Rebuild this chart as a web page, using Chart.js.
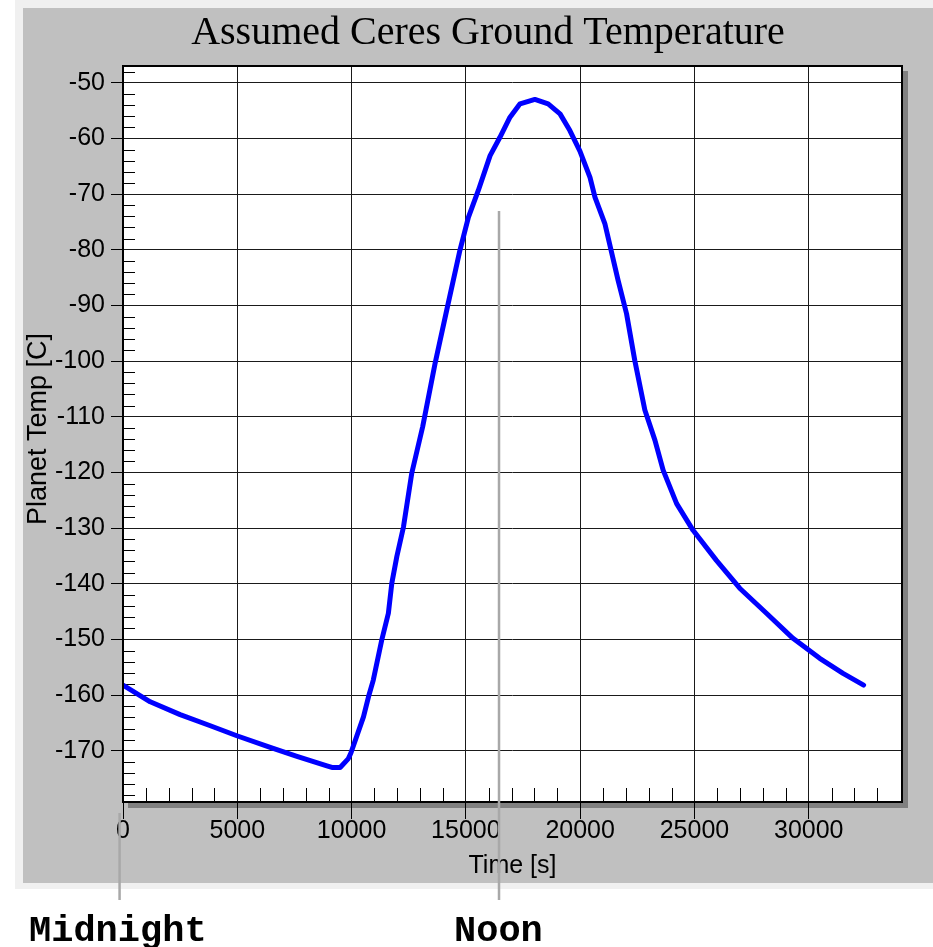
<!DOCTYPE html>
<html>
<head>
<meta charset="utf-8">
<title>Assumed Ceres Ground Temperature</title>
<script src="https://cdn.jsdelivr.net/npm/chart.js@4"></script>
<style>
    html, body { margin: 0; padding: 0; background: #ffffff; }
    #chart { display: block; }
</style>
</head>
<body>
<canvas id="chart" width="933" height="947"></canvas>
<script>
// Data
const timeSeconds = [0, 1190, 2500, 3820, 4980, 6440, 7610, 8920, 9140, 9500,
    9860, 9970, 10520, 10740, 10950, 11320, 11610, 11760, 11980, 12270,
    12630, 13110, 13650, 14160, 14740, 15110, 15540, 16060, 16490, 16930,
    17370, 18020, 18600, 19120, 19550, 19990, 20430, 20650, 21080, 21660,
    22030, 22390, 22830, 23270, 23630, 24220, 24940, 25960, 26980, 28150,
    29310, 30480, 31500, 32400];
const groundTempC = [-158.2, -161.2, -163.5, -165.5, -167.3, -169.4, -171.0, -172.7, -173.0, -173.0,
    -171.4, -170.4, -163.9, -160.3, -157.3, -150.1, -145.3, -139.9, -135.1, -129.8,
    -120.2, -111.8, -100.5, -90.9, -80.1, -74.2, -69.4, -63.1, -59.8, -56.2,
    -53.8, -53.0, -53.8, -55.6, -58.6, -62.3, -67.0, -70.6, -75.3, -85.5,
    -91.5, -99.9, -108.8, -114.2, -119.6, -125.6, -130.4, -135.8, -140.8, -145.3,
    -149.8, -153.4, -156.1, -158.2];

const xTickValues = [0, 5000, 10000, 15000, 20000, 25000, 30000];
const yTickValues = [-50, -60, -70, -80, -90, -100, -110, -120, -130, -140, -150, -160, -170];

// Axis ranges (auto range of the original tool, 5% margin)
const xMin = 0, xMax = 34080;
const yMin = -179.2, yMax = -47.0;

// Annotation markers under the chart
const markers = [
    { label: 'Midnight', time: -150, lineTop: 813, textX: 29 },
    { label: 'Noon', time: 16450, lineTop: 211, textX: 454 }
];

const AXIS_FONT = 'Arial, "Liberation Sans", sans-serif';

// Background panels, plot shadow and white plot area
const framePlugin = {
    id: 'frame',
    beforeDraw(chart) {
        const ctx = chart.ctx;
        const a = chart.chartArea;
        ctx.save();
        ctx.fillStyle = '#ffffff';
        ctx.fillRect(0, 0, chart.width, chart.height);
        ctx.fillStyle = '#f0f0f0';
        ctx.fillRect(15, 0, chart.width - 15, 889);
        ctx.fillStyle = '#c0c0c0';
        ctx.fillRect(23, 8, chart.width - 23, 875);
        ctx.fillStyle = '#808080';
        ctx.fillRect(a.left + 5, a.top + 5, a.right - a.left + 1, a.bottom - a.top + 1);
        ctx.fillStyle = '#ffffff';
        ctx.fillRect(a.left, a.top, a.right - a.left, a.bottom - a.top);
        ctx.restore();
    },
    beforeDatasetsDraw(chart) {
        // minor ticks, pointing into the plot
        const ctx = chart.ctx;
        const a = chart.chartArea;
        const xs = chart.scales.x, ys = chart.scales.y;
        ctx.save();
        ctx.strokeStyle = '#000000';
        ctx.lineWidth = 1;
        ctx.beginPath();
        for (let v = -48; v > yMin; v -= 2) {
            if (v % 10 === 0) continue;
            const py = Math.round(ys.getPixelForValue(v)) + 0.5;
            ctx.moveTo(a.left, py);
            ctx.lineTo(a.left + 12, py);
        }
        for (let v = 1000; v < xMax - 500; v += 1000) {
            if (v % 5000 === 0) continue;
            const px = Math.round(xs.getPixelForValue(v)) + 0.5;
            ctx.moveTo(px, a.bottom);
            ctx.lineTo(px, a.bottom - 14);
        }
        ctx.stroke();
        ctx.restore();
    },
    afterDraw(chart) {
        const ctx = chart.ctx;
        const a = chart.chartArea;
        ctx.save();
        // plot border
        ctx.strokeStyle = '#000000';
        ctx.lineWidth = 2;
        ctx.strokeRect(a.left, a.top, a.right - a.left, a.bottom - a.top);

        // titles
        ctx.fillStyle = '#000000';
        ctx.textAlign = 'center';
        ctx.textBaseline = 'alphabetic';
        ctx.font = '40px "Times New Roman", "Liberation Serif", serif';
        ctx.fillText('Assumed Ceres Ground Temperature', 488, 44);

        ctx.textBaseline = 'middle';
        ctx.font = '25px ' + AXIS_FONT;
        ctx.fillText('Time [s]', (a.left + a.right) / 2, 866);

        ctx.save();
        ctx.translate(39, 429);
        ctx.rotate(-Math.PI / 2);
        ctx.font = '27px ' + AXIS_FONT;
        ctx.fillText('Planet Temp [C]', 0, 0);
        ctx.restore();

        // Midnight / Noon markers
        const xs = chart.scales.x;
        ctx.strokeStyle = '#a8a8a8';
        ctx.lineWidth = 2.5;
        ctx.font = 'bold 37px "Courier New", "Liberation Mono", monospace';
        ctx.textAlign = 'left';
        ctx.textBaseline = 'alphabetic';
        markers.forEach(m => {
            const px = xs.getPixelForValue(m.time);
            ctx.beginPath();
            ctx.moveTo(px, m.lineTop);
            ctx.lineTo(px, 900);
            ctx.stroke();
            ctx.fillText(m.label, m.textX, 941);
        });
        ctx.restore();
    }
};

const ctx = document.getElementById('chart').getContext('2d');
new Chart(ctx, {
    type: 'line',
    data: {
        datasets: [{
            label: 'Planet Temp',
            data: timeSeconds.map((t, i) => ({ x: t, y: groundTempC[i] })),
            borderColor: '#0000ff',
            borderWidth: 5,
            borderCapStyle: 'round',
            borderJoinStyle: 'round',
            pointRadius: 0,
            tension: 0,
            fill: false
        }]
    },
    options: {
        responsive: false,
        animation: false,
        devicePixelRatio: 1,
        layout: {
            padding: { left: 0, top: 66, right: 31, bottom: 0 }
        },
        plugins: {
            legend: { display: false },
            title: { display: false },
            tooltip: { enabled: false }
        },
        scales: {
            x: {
                type: 'linear',
                min: xMin,
                max: xMax,
                afterFit(scale) { scale.height = 145; },
                afterBuildTicks(scale) { scale.ticks = xTickValues.map(v => ({ value: v })); },
                border: { display: false },
                grid: {
                    color: '#1a1a1a',
                    lineWidth: 1,
                    tickLength: 17,
                    tickColor: '#000000'
                },
                ticks: {
                    color: '#000000',
                    padding: 0,
                    autoSkip: false,
                    maxRotation: 0,
                    callback: value => String(value),
                    font: { family: AXIS_FONT, size: 25, lineHeight: 1 }
                }
            },
            y: {
                type: 'linear',
                min: yMin,
                max: yMax,
                afterFit(scale) { scale.width = 123; },
                afterBuildTicks(scale) { scale.ticks = yTickValues.map(v => ({ value: v })); },
                border: { display: false },
                grid: {
                    color: '#1a1a1a',
                    lineWidth: 1,
                    tickLength: 12,
                    tickColor: '#000000'
                },
                ticks: {
                    color: '#000000',
                    padding: 6,
                    callback: value => String(value),
                    font: { family: AXIS_FONT, size: 25 }
                }
            }
        }
    },
    plugins: [framePlugin]
});
</script>
</body>
</html>
